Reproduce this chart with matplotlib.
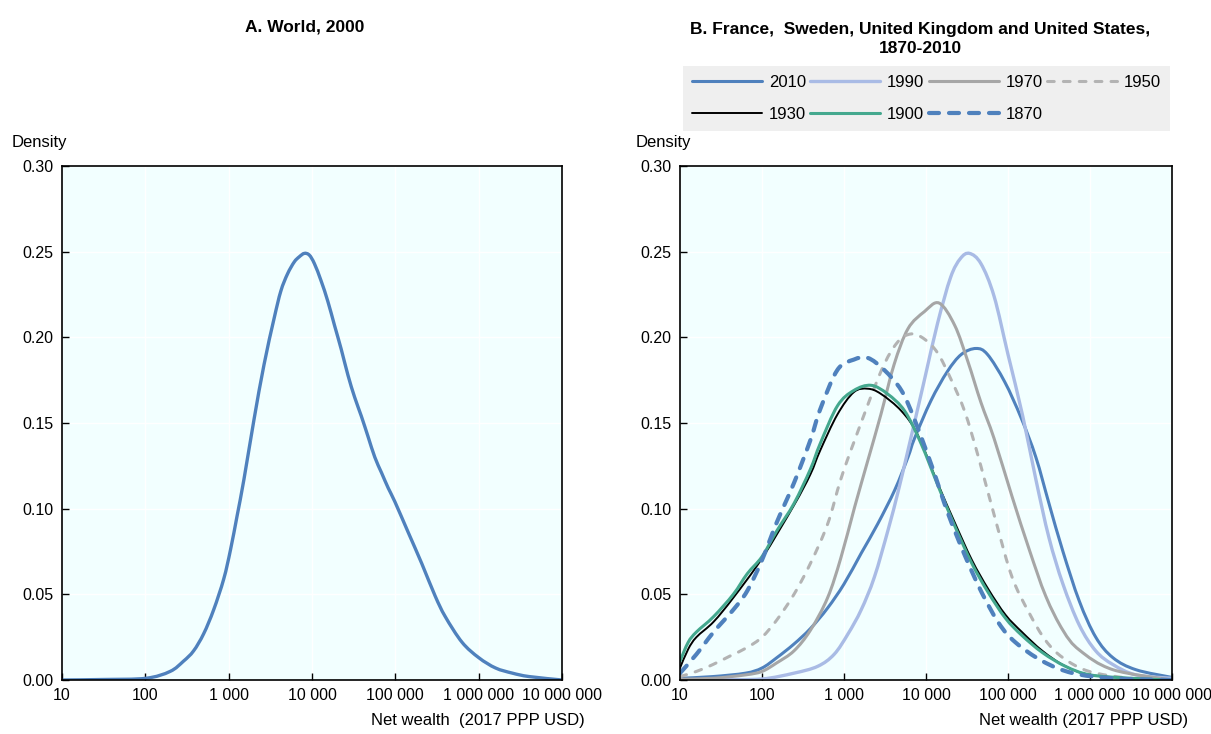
import numpy as np
import matplotlib
matplotlib.use('Agg')
import matplotlib.pyplot as plt
from matplotlib.ticker import FixedLocator, FuncFormatter, NullLocator
from matplotlib.lines import Line2D
from matplotlib.path import Path
from matplotlib.patches import PathPatch

plt.rcParams['font.family'] = ['Liberation Sans Narrow', 'Liberation Sans', 'DejaVu Sans']

# x values are log10 of net wealth (2017 PPP USD)
# Panel A: World, 2000
world_log = [1.0, 1.5, 2.007, 2.297, 2.458, 2.579, 2.70, 2.82, 2.941, 3.022, 3.102, 3.183,
             3.304, 3.424, 3.545, 3.626, 3.706, 3.787, 3.847, 3.908, 3.968, 4.029, 4.109,
             4.19, 4.27, 4.351, 4.431, 4.512, 4.592, 4.673, 4.754, 4.834, 4.915, 4.995,
             5.156, 5.317, 5.478, 5.599, 5.801, 6.002, 6.203, 6.405, 6.606, 7.0]
world_dens = [0.0, 0.0003, 0.001, 0.005, 0.011, 0.017, 0.027, 0.041, 0.059, 0.076, 0.096, 0.117,
              0.152, 0.184, 0.211, 0.227, 0.237, 0.244, 0.247, 0.249, 0.248, 0.243, 0.233,
              0.221, 0.207, 0.193, 0.178, 0.165, 0.154, 0.142, 0.130, 0.121, 0.112, 0.104,
              0.086, 0.068, 0.049, 0.037, 0.022, 0.013, 0.007, 0.004, 0.002, 0.0]

# Panel B: France, Sweden, United Kingdom and United States
log_2010 = [1.0, 1.4, 1.8, 2.0, 2.18, 2.39, 2.59, 2.80, 3.0, 3.21, 3.41, 3.62, 3.78, 3.86, 4.06,
            4.26, 4.43, 4.61, 4.75, 4.96, 5.16, 5.34, 5.50, 5.67, 5.87, 6.07, 6.28, 6.56, 7.0]
dens_2010 = [0.001, 0.002, 0.004, 0.007, 0.013, 0.021, 0.030, 0.042, 0.056, 0.074, 0.091, 0.111,
             0.130, 0.141, 0.163, 0.180, 0.190, 0.1935, 0.190, 0.174, 0.153, 0.130, 0.103,
             0.075, 0.046, 0.025, 0.013, 0.006, 0.0015]

log_1990 = [1.0, 1.5, 2.0, 2.39, 2.68, 2.88, 3.05, 3.21, 3.37, 3.54, 3.66, 3.78, 3.98, 4.14,
            4.30, 4.42, 4.53, 4.67, 4.83, 5.0, 5.18, 5.34, 5.50, 5.67, 5.87, 6.07, 6.28, 6.56, 7.0]
dens_1990 = [0.0, 0.0002, 0.0006, 0.004, 0.008, 0.015, 0.027, 0.041, 0.060, 0.088, 0.110, 0.134,
             0.175, 0.208, 0.235, 0.246, 0.249, 0.243, 0.224, 0.190, 0.154, 0.117, 0.083,
             0.056, 0.032, 0.017, 0.009, 0.003, 0.001]

log_1970 = [1.0, 1.4, 1.8, 2.0, 2.18, 2.39, 2.59, 2.80, 2.96, 3.13, 3.29, 3.45, 3.61, 3.78,
            3.98, 4.16, 4.35, 4.51, 4.67, 4.83, 5.05, 5.26, 5.46, 5.67, 5.87, 6.28, 7.0]
dens_1970 = [0.0005, 0.001, 0.003, 0.005, 0.010, 0.017, 0.029, 0.048, 0.071, 0.101, 0.128, 0.155,
             0.184, 0.205, 0.215, 0.220, 0.207, 0.186, 0.162, 0.141, 0.107, 0.076, 0.049,
             0.029, 0.0175, 0.006, 0.0]

log_1950 = [1.0, 1.2, 1.4, 1.61, 1.82, 2.0, 2.18, 2.39, 2.59, 2.80, 2.96, 3.13, 3.45, 3.65,
            3.82, 3.98, 4.14, 4.30, 4.47, 4.64, 4.85, 5.05, 5.26, 5.46, 5.67, 5.99, 6.5, 7.0]
dens_1950 = [0.002, 0.005, 0.009, 0.014, 0.019, 0.025, 0.035, 0.050, 0.068, 0.091, 0.117, 0.140,
             0.180, 0.197, 0.202, 0.199, 0.191, 0.176, 0.157, 0.130, 0.093, 0.060, 0.039,
             0.023, 0.013, 0.005, 0.001, 0.0]

log_1930 = [1.0, 1.1, 1.2, 1.41, 1.65, 2.0, 2.39, 2.59, 2.71, 2.92, 3.12, 3.29, 3.45, 3.70,
            3.90, 4.15, 4.35, 4.56, 4.76, 4.97, 5.17, 5.42, 5.7, 6.0, 6.5, 7.0]
dens_1930 = [0.007, 0.018, 0.025, 0.034, 0.048, 0.071, 0.102, 0.120, 0.134, 0.155, 0.168, 0.170,
             0.167, 0.157, 0.143, 0.114, 0.092, 0.070, 0.053, 0.038, 0.028, 0.017, 0.008,
             0.003, 0.001, 0.0]

log_1900 = [1.0, 1.1, 1.2, 1.41, 1.65, 1.82, 2.0, 2.18, 2.39, 2.59, 2.71, 2.92, 3.12, 3.33,
            3.53, 3.74, 3.94, 4.15, 4.35, 4.56, 4.76, 4.97, 5.17, 5.42, 5.7, 6.0, 6.5, 7.0]
dens_1900 = [0.011, 0.022, 0.028, 0.037, 0.050, 0.062, 0.072, 0.087, 0.103, 0.123, 0.138, 0.160,
             0.169, 0.172, 0.167, 0.157, 0.138, 0.113, 0.090, 0.068, 0.051, 0.036, 0.026,
             0.016, 0.008, 0.003, 0.001, 0.0]

log_1870 = [1.0, 1.2, 1.41, 1.65, 1.82, 2.0, 2.18, 2.39, 2.59, 2.71, 2.92, 3.12, 3.29, 3.49,
            3.70, 3.86, 4.07, 4.27, 4.48, 4.68, 4.89, 5.09, 5.42, 5.79, 6.28, 7.0]
dens_1870 = [0.004, 0.015, 0.028, 0.041, 0.052, 0.070, 0.092, 0.115, 0.140, 0.158, 0.181, 0.187,
             0.188, 0.181, 0.169, 0.152, 0.125, 0.097, 0.072, 0.051, 0.033, 0.022, 0.011,
             0.004, 0.001, 0.0]

x_ticks = [10, 100, 1000, 10000, 100000, 1000000, 10000000]
y_ticks = [0.0, 0.05, 0.10, 0.15, 0.20, 0.25, 0.30]

blue = '#4F81BD'
light = '#A9BBE5'
grey = '#A6A6A6'
grey_d = '#B3B3B3'
teal = '#44A88E'

fig = plt.figure(figsize=(12.11, 7.34), dpi=100)
ax_a = fig.add_axes([62 / 1211, 1 - 680 / 734, 500 / 1211, 514 / 734])
ax_b = fig.add_axes([680 / 1211, 1 - 680 / 734, 492 / 1211, 514 / 734])


def style(ax):
    ax.set_facecolor('#F2FFFF')
    ax.set_xscale('log')
    ax.set_xlim(10, 1e7)
    ax.set_ylim(0, 0.30)
    ax.xaxis.set_major_locator(FixedLocator(x_ticks))
    ax.xaxis.set_minor_locator(NullLocator())
    ax.xaxis.set_major_formatter(FuncFormatter(lambda v, p: '{:,}'.format(int(round(v))).replace(',', ' ')))
    ax.set_yticks(y_ticks)
    ax.yaxis.set_major_formatter(FuncFormatter(lambda v, p: '%.2f' % v))
    ax.grid(True, color='white', lw=1)
    ax.set_axisbelow(True)
    ax.tick_params(direction='in', length=5, width=1, labelsize=11.5, colors='black', pad=6)
    for s in ax.spines.values():
        s.set_color('black')
        s.set_linewidth(1.2)


def smooth_curve(ax, xl, y, **kw):
    # smoothed line through the read points (Catmull-Rom as cubic Bezier, in log-x space)
    p = np.column_stack([xl, y])
    n = len(p)
    verts = [p[0]]
    codes = [Path.MOVETO]
    for i in range(n - 1):
        p0, p1, p2, p3 = p[max(i - 1, 0)], p[i], p[i + 1], p[min(i + 2, n - 1)]
        verts += [p1 + (p2 - p0) / 6, p2 - (p3 - p1) / 6, p2]
        codes += [Path.CURVE4] * 3
    verts = np.array(verts)
    verts[:, 0] = 10 ** verts[:, 0]
    verts[:, 1] = np.clip(verts[:, 1], 0, None)
    ax.add_patch(PathPatch(Path(verts, codes), fill=False, **kw))


style(ax_a)
style(ax_b)

smooth_curve(ax_a, world_log, world_dens, edgecolor=blue, lw=2.4, capstyle='round')

styles = {
    '2010': dict(color=blue, lw=2.2),
    '1990': dict(color=light, lw=2.4),
    '1970': dict(color=grey, lw=2.2),
    '1950': dict(color=grey_d, lw=2.2, ls=(0, (2.2, 3.0))),
    '1930': dict(color='black', lw=1.4),
    '1900': dict(color=teal, lw=2.2),
    '1870': dict(color=blue, lw=3.0, ls=(0, (2.4, 2.4))),
}
data = {
    '2010': (log_2010, dens_2010),
    '1990': (log_1990, dens_1990),
    '1970': (log_1970, dens_1970),
    '1950': (log_1950, dens_1950),
    '1930': (log_1930, dens_1930),
    '1900': (log_1900, dens_1900),
    '1870': (log_1870, dens_1870),
}
handles = {}
for key in ['2010', '1990', '1970', '1950', '1930', '1900', '1870']:
    st = styles[key]
    smooth_curve(ax_b, data[key][0], data[key][1], edgecolor=st['color'], lw=st['lw'],
                 linestyle=st.get('ls', '-'), capstyle='round')
    handles[key] = Line2D([], [], color=st['color'], lw=st['lw'], linestyle=st.get('ls', '-'),
                          dash_capstyle='round', solid_capstyle='round')

# legend filled column-wise, so order the items for row-wise reading
order = ['2010', '1930', '1990', '1900', '1970', '1870', '1950']
fig.legend([handles[k] for k in order], order, ncol=4, loc='center',
           bbox_to_anchor=(683 / 1211, 1 - 132 / 734, 487 / 1211, 67 / 734),
           mode='expand', frameon=True, facecolor='#EFEFEF', edgecolor='none',
           fancybox=False, framealpha=1, handlelength=4.2, handletextpad=0.4,
           columnspacing=0.6, labelspacing=1.05, borderpad=0.55, fontsize=12,
           borderaxespad=0)

fig.text(305 / 1211, 1 - 27 / 734, 'A. World, 2000', ha='center', va='center',
         fontsize=12.5, fontweight='bold')
fig.text(920 / 1211, 1 - 39 / 734, 'B. France,  Sweden, United Kingdom and United States,\n1870-2010',
         ha='center', va='center', fontsize=12.5, fontweight='bold', linespacing=1.4)

fig.text(12 / 1211, 1 - 142 / 734, 'Density', ha='left', va='center', fontsize=12)
fig.text(636 / 1211, 1 - 142 / 734, 'Density', ha='left', va='center', fontsize=12)

fig.text(585 / 1211, 1 - 720 / 734, 'Net wealth  (2017 PPP USD)', ha='right', va='center', fontsize=12)
fig.text(1188 / 1211, 1 - 720 / 734, 'Net wealth (2017 PPP USD)', ha='right', va='center', fontsize=12)

fig.savefig('out.png', dpi=100)
